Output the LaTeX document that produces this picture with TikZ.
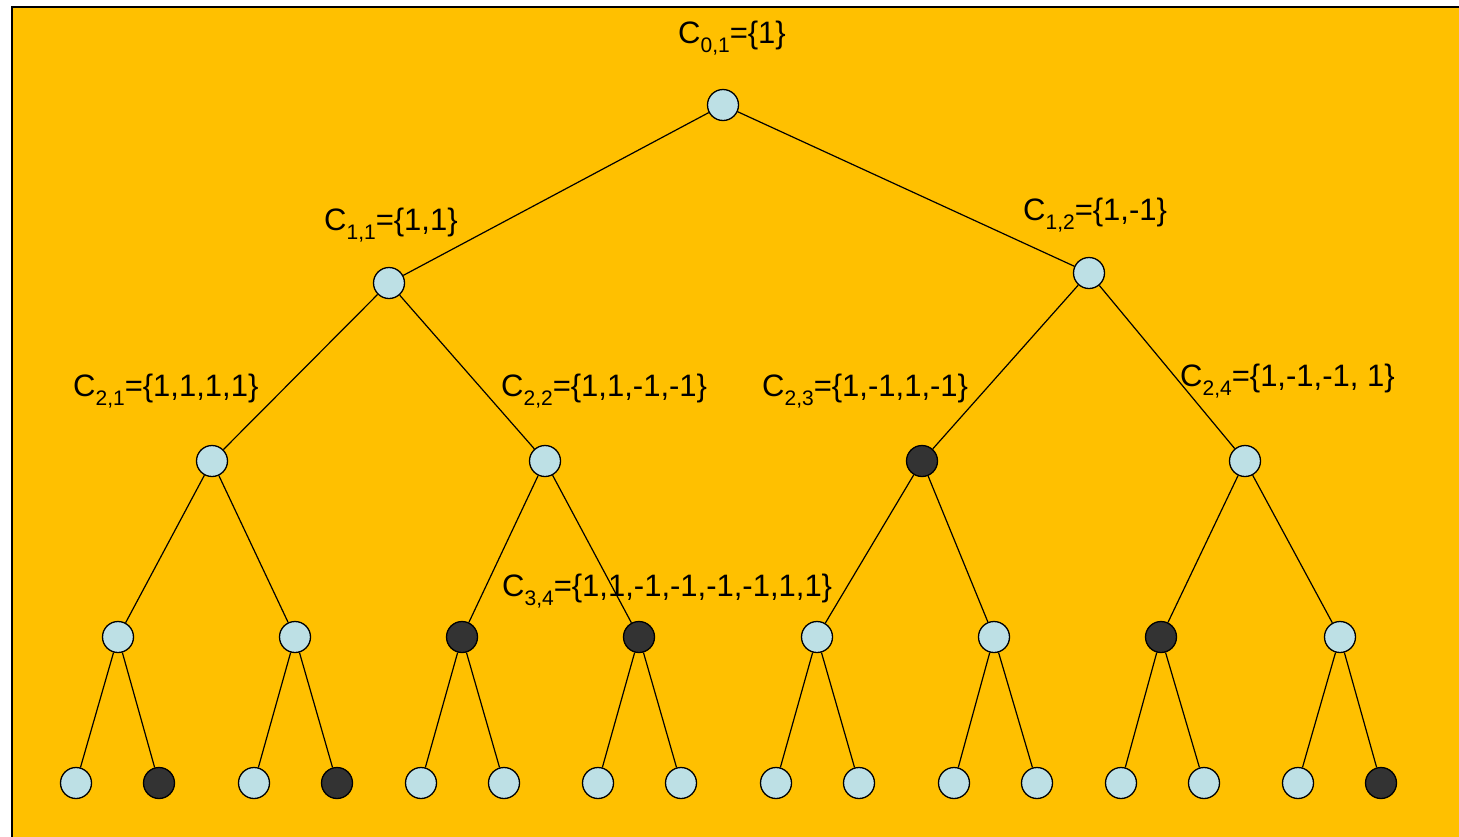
\documentclass[tikz,border=0pt]{standalone}
\usepackage{fontspec}
\setmainfont{Liberation Sans}
\definecolor{bgorange}{HTML}{FFC000}
\definecolor{lightnode}{HTML}{BDE0E5}
\definecolor{darknode}{HTML}{333333}
\newcommand{\subs}[1]{\raisebox{-9pt}{\fontsize{21}{21}\selectfont #1}}
\begin{document}
\begin{tikzpicture}[x=1pt,y=-1pt,
  nd/.style={circle, draw=black, line width=1.3pt, minimum size=31pt, inner sep=0pt, fill=lightnode},
  dk/.style={nd, fill=darknode},
  lbl/.style={font=\fontsize{31}{36}\selectfont, inner sep=0pt, anchor=base west},
  edge/.style={line width=1.2pt}]
\useasboundingbox (0,0) rectangle (1459,836);
\clip (0,0) rectangle (1459,836);
\fill[white] (0,0) rectangle (1459,836);
\draw[fill=bgorange, line width=2.5pt] (12,7) rectangle (1480,860);
% level 0
\node[nd] (r) at (723,105) {};
% level 1
\node[nd] (a1) at (389,283) {};
\node[nd] (a2) at (1089,273) {};
% level 2
\node[nd] (b1) at (212,461) {};
\node[nd] (b2) at (545,461) {};
\node[dk] (b3) at (922,461) {};
\node[nd] (b4) at (1245,461) {};
% level 3
\node[nd] (c1) at (118,637) {};
\node[nd] (c2) at (295,637) {};
\node[dk] (c3) at (462,637) {};
\node[dk] (c4) at (639,637) {};
\node[nd] (c5) at (817,637) {};
\node[nd] (c6) at (994,637) {};
\node[dk] (c7) at (1161,637) {};
\node[nd] (c8) at (1340,637) {};
% level 4
\node[nd] (d1) at (76,783) {};
\node[dk] (d2) at (159,783) {};
\node[nd] (d3) at (254,783) {};
\node[dk] (d4) at (337,783) {};
\node[nd] (d5) at (421,783) {};
\node[nd] (d6) at (504,783) {};
\node[nd] (d7) at (598,783) {};
\node[nd] (d8) at (681,783) {};
\node[nd] (d9) at (776,783) {};
\node[nd] (d10) at (859,783) {};
\node[nd] (d11) at (954,783) {};
\node[nd] (d12) at (1037,783) {};
\node[nd] (d13) at (1121,783) {};
\node[nd] (d14) at (1204,783) {};
\node[nd] (d15) at (1298,783) {};
\node[dk] (d16) at (1381,783) {};
% edges
\draw[edge] (r) -- (a1);
\draw[edge] (r) -- (a2);
\draw[edge] (a1) -- (b1);
\draw[edge] (a1) -- (b2);
\draw[edge] (a2) -- (b3);
\draw[edge] (a2) -- (b4);
\draw[edge] (b1) -- (c1);
\draw[edge] (b1) -- (c2);
\draw[edge] (b2) -- (c3);
\draw[edge] (b2) -- (c4);
\draw[edge] (b3) -- (c5);
\draw[edge] (b3) -- (c6);
\draw[edge] (b4) -- (c7);
\draw[edge] (b4) -- (c8);
\draw[edge] (c1) -- (d1);
\draw[edge] (c1) -- (d2);
\draw[edge] (c2) -- (d3);
\draw[edge] (c2) -- (d4);
\draw[edge] (c3) -- (d5);
\draw[edge] (c3) -- (d6);
\draw[edge] (c4) -- (d7);
\draw[edge] (c4) -- (d8);
\draw[edge] (c5) -- (d9);
\draw[edge] (c5) -- (d10);
\draw[edge] (c6) -- (d11);
\draw[edge] (c6) -- (d12);
\draw[edge] (c7) -- (d13);
\draw[edge] (c7) -- (d14);
\draw[edge] (c8) -- (d15);
\draw[edge] (c8) -- (d16);
% labels
\node[lbl] (l01) at (678,43) {C\subs{0,1}=\{1\}};
\node[lbl] (l11) at (324,230) {C\subs{1,1}=\{1,1\}};
\node[lbl] (l12) at (1023,220) {C\subs{1,2}=\{1,-1\}};
\node[lbl] (l21) at (73,396) {C\subs{2,1}=\{1,1,1,1\}};
\node[lbl] (l22) at (501,396) {C\subs{2,2}=\{1,1,-1,-1\}};
\node[lbl] (l23) at (762,396) {C\subs{2,3}=\{1,-1,1,-1\}};
\node[lbl] (l24) at (1180,386) {C\subs{2,4}=\{1,-1,-1, 1\}};
\node[lbl] (l34) at (502,596) {C\subs{3,4}=\{1,1,-1,-1,-1,-1,1,1\}};
\end{tikzpicture}
\end{document}
